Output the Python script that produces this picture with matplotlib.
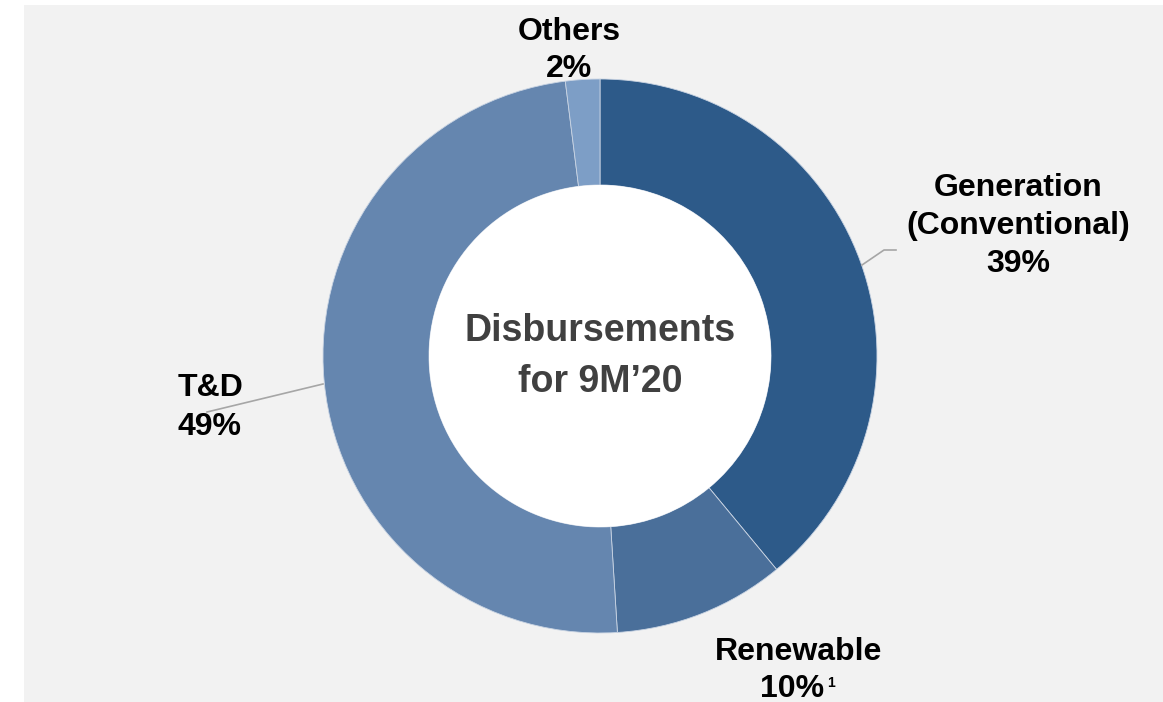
import matplotlib
matplotlib.use('Agg')
import matplotlib.pyplot as plt
from matplotlib.patches import Circle, Rectangle

# disbursement split, clockwise from 12 o'clock
segments = ['Generation\n(Conventional)', 'Renewable', 'T&D', 'Others']
shares = [39, 10, 49, 2]
colors = ['#2D5A89', '#4A6F9A', '#6586AF', '#7D9EC6']
centre_title = ['Disbursements', 'for 9M\u201920']

plt.rcParams['font.family'] = ['Liberation Sans', 'DejaVu Sans']

H = 702
fig = plt.figure(figsize=(11.63, 7.02), dpi=100)
ax = fig.add_axes([0, 0, 1, 1])

# light grey panel behind the chart
ax.add_patch(Rectangle((24, 0), 1139, 697, facecolor='#F2F2F2', edgecolor='none', zorder=0))

cx, cy, r_out, r_in = 600, 346, 277, 171
wedges, _ = ax.pie(shares, colors=colors, startangle=90, counterclock=False,
                   radius=r_out, center=(cx, cy),
                   wedgeprops=dict(width=r_out - r_in, edgecolor='#C9D4E3', linewidth=0.6))
ax.add_patch(Circle((cx, cy), r_in, facecolor='white', edgecolor='none', zorder=3))

ax.set_xlim(0, 1163)
ax.set_ylim(0, H)
ax.set_aspect('auto')
ax.axis('off')


def block(x, baselines, lines, ha='center', size=23, color='black'):
    # one text per line so the line pitch can be set exactly (y in pixels from top)
    for yb, s in zip(baselines, lines):
        ax.text(x, H - yb, s, fontsize=size, fontweight='bold', color=color,
                ha=ha, va='baseline', zorder=4)


block(cx, [341, 392], centre_title, size=27, color='#404040')

# Generation
block(1018, [196, 234, 272], segments[0].split('\n') + [f'{shares[0]}%'])
ax.plot([862, 884, 896], [H - 265, H - 250, H - 250], color='#A6A6A6', lw=1.2, zorder=2)

# Renewable (footnoted)
block(799, [660], [segments[1]])
block(824, [697], [f'{shares[1]}%'], ha='right')
ax.text(827, H - 687, '1', fontsize=10, fontweight='bold', color='black',
        ha='left', va='baseline')

# T&D
block(178, [396, 435], [segments[2], f'{shares[2]}%'], ha='left')
ax.plot([323, 207], [H - 384, H - 412], color='#A6A6A6', lw=1.2, zorder=2)

# Others
block(569, [40, 77], [segments[3], f'{shares[3]}%'])

fig.savefig('out.png', dpi=100)
